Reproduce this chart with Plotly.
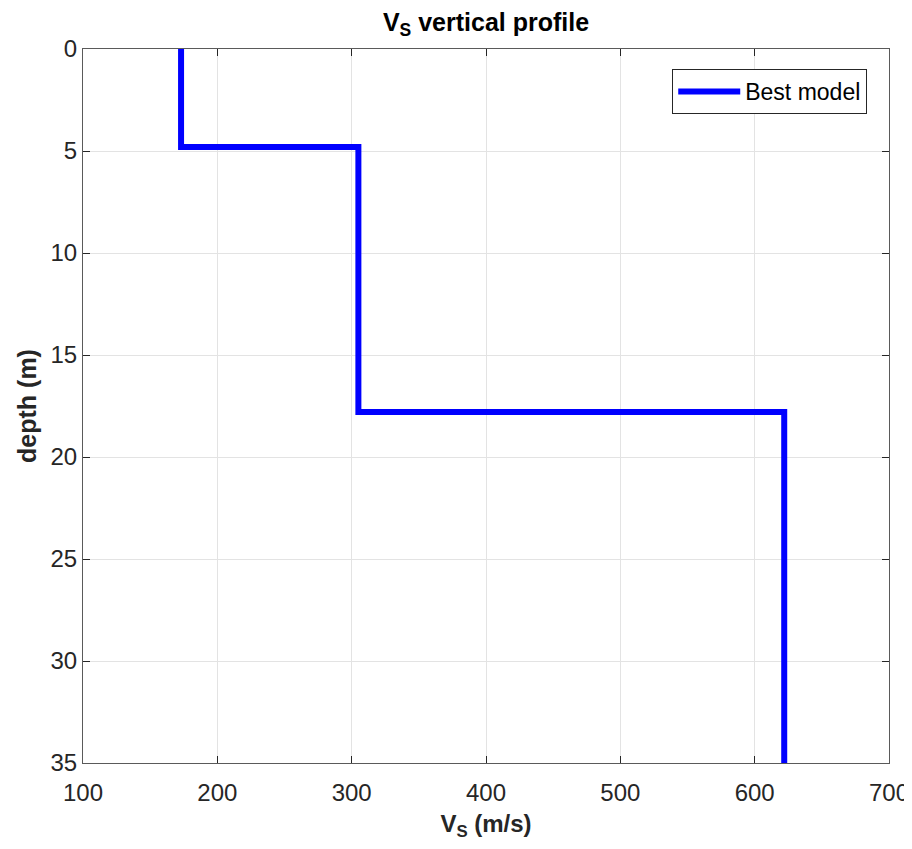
import plotly.graph_objects as go

# Layered model: shear-wave velocity per layer and layer-top depths
vs_layers = [173, 305, 622]
layer_tops = [0, 4.8, 17.8]
max_depth = 35

# build step profile
xs, ys = [], []
for i, v in enumerate(vs_layers):
    top = layer_tops[i]
    bot = layer_tops[i + 1] if i + 1 < len(layer_tops) else max_depth
    xs += [v, v]
    ys += [top, bot]

font_main = "Liberation Sans, Arial, Helvetica, sans-serif"

fig = go.Figure()
fig.add_trace(go.Scatter(x=xs, y=ys, mode="lines", name="Best model",
                         line=dict(color="#0000ff", width=6), showlegend=True))

axis_common = dict(showline=True, linecolor="#5a5a5a", linewidth=1, mirror="ticks",
                   ticks="inside", ticklen=7, tickcolor="#262626",
                   showgrid=True, gridcolor="#e3e3e3", gridwidth=1,
                   zeroline=False, tickfont=dict(family=font_main, size=24, color="#262626"))

fig.update_layout(
    width=912, height=849,
    paper_bgcolor="white", plot_bgcolor="white",
    margin=dict(l=75, r=31, t=41, b=94),
    title=dict(text="<b>V<sub>S</sub> vertical profile</b>", xref="paper", x=0.5,
               xanchor="center", yref="container", y=0.983, yanchor="middle",
               font=dict(family=font_main, size=25, color="#000000")),
    xaxis=dict(range=[100, 700], dtick=100, ticklabelstandoff=8,
               title=dict(text="<b>V<sub>S</sub> (m/s)</b>", standoff=10,
                          font=dict(family=font_main, size=24, color="#262626")),
               **axis_common),
    yaxis=dict(range=[35, 0], dtick=5,
               title=dict(text="<b>depth (m)</b>", standoff=6,
                          font=dict(family=font_main, size=25, color="#262626")),
               **axis_common),
    legend=dict(x=0.973, y=0.972, xanchor="right", yanchor="top",
                bgcolor="white", bordercolor="#262626", borderwidth=1,
                itemwidth=62,
                font=dict(family=font_main, size=23, color="#000000")),
)

fig.write_html("out.html")
